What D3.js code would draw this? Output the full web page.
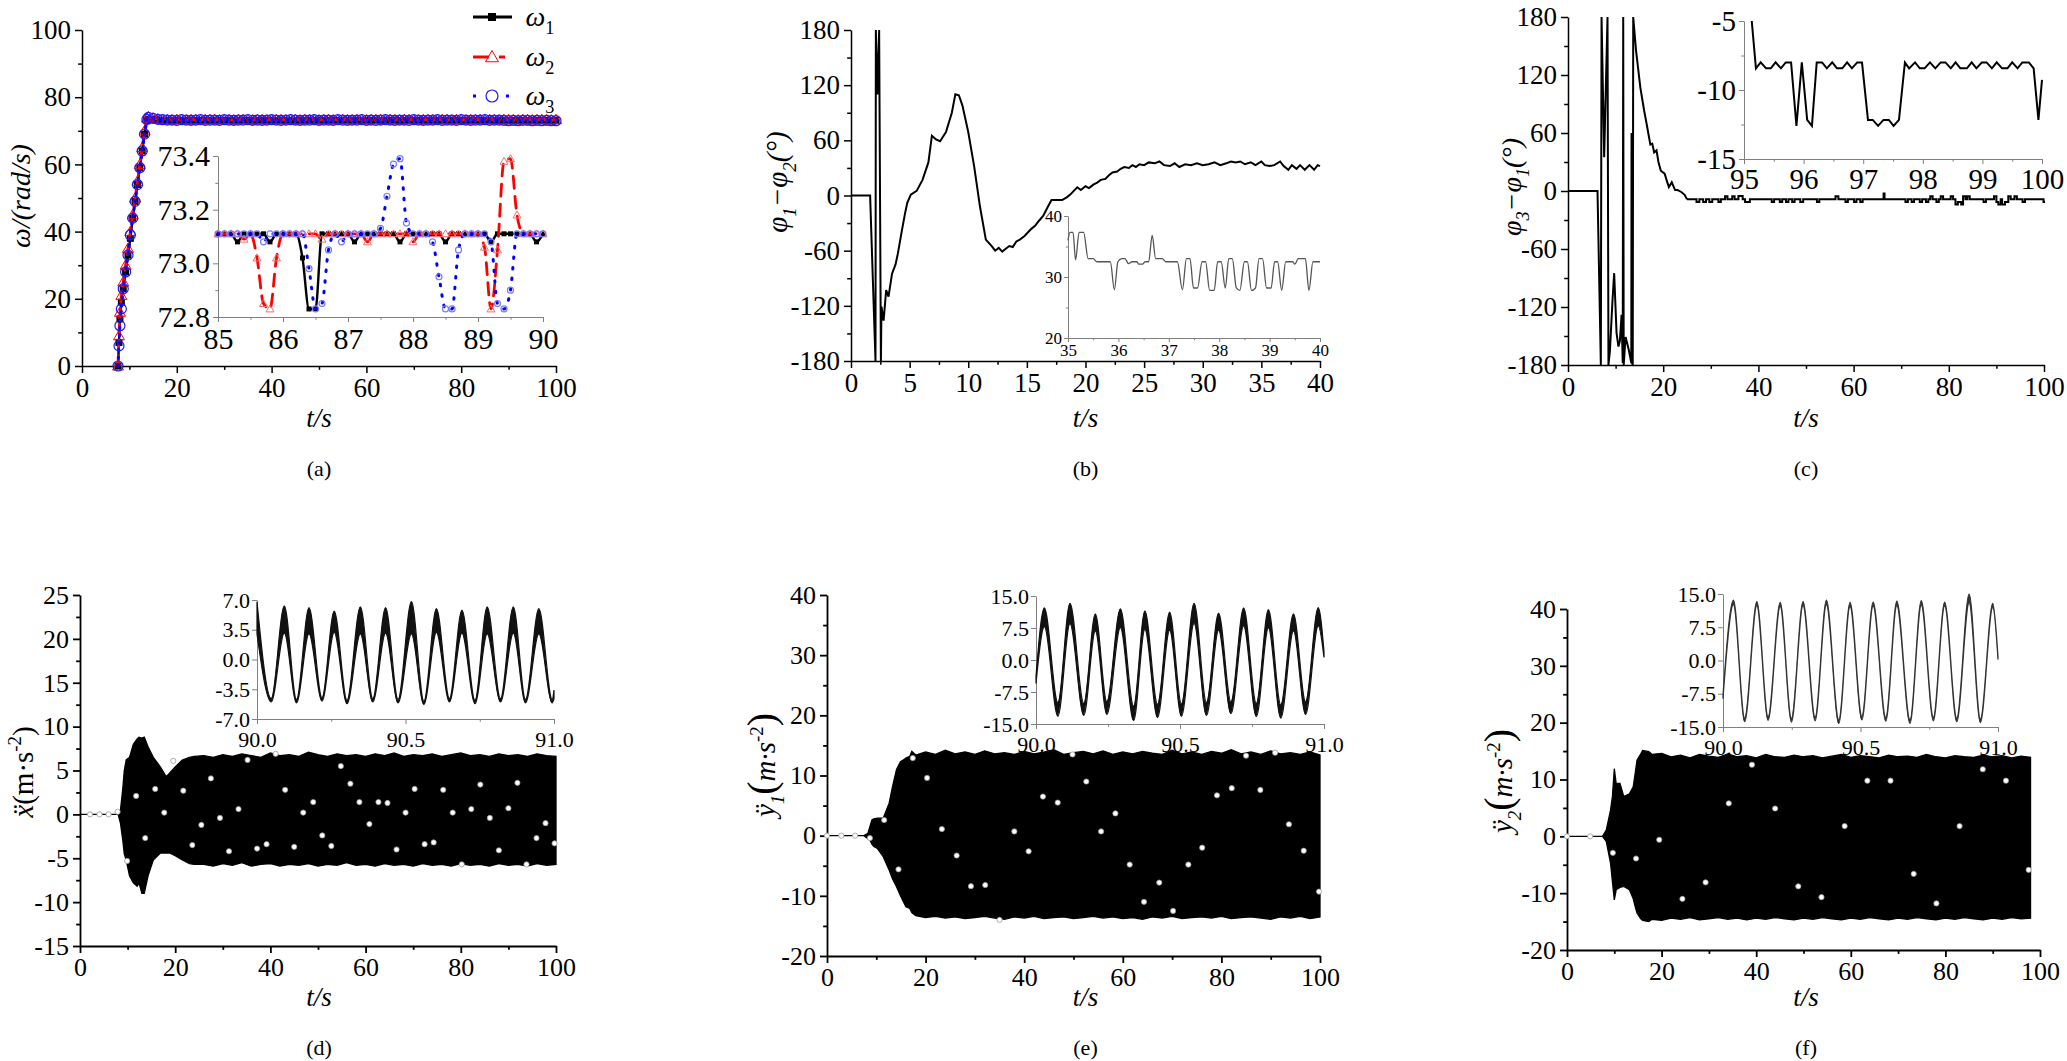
<!DOCTYPE html>
<html>
<head>
<meta charset="utf-8">
<script src="https://cdn.jsdelivr.net/npm/d3@7"></script>
<style>
  body { margin: 0; background: #fff; }
</style>
</head>
<body>
<script>
const serif = 'Liberation Serif, Times New Roman, serif'

// ---------------Tick labels---------------
const t100 = [0, 20, 40, 60, 80, 100]
const aYTicks = [0, 20, 40, 60, 80, 100]
const aInXTicks = [85, 86, 87, 88, 89, 90]
const aInYTicks = [72.8, 73.0, 73.2, 73.4]
const bXTicks = [0, 5, 10, 15, 20, 25, 30, 35, 40]
const phiTicks = [-180, -120, -60, 0, 60, 120, 180]
const bInXTicks = [35, 36, 37, 38, 39, 40]
const bInYTicks = [20, 30, 40]
const cInXTicks = [95, 96, 97, 98, 99, 100]
const cInYTicks = [-15, -10, -5]
const dYTicks = [-15, -10, -5, 0, 5, 10, 15, 20, 25]
const accInXTicks = [90.0, 90.5, 91.0]
const dInYTicks = [-7.0, -3.5, 0.0, 3.5, 7.0]
const efYTicks = [-20, -10, 0, 10, 20, 30, 40]
const efInYTicks = [-15.0, -7.5, 0.0, 7.5, 15.0]

// ---------------(a) angular speed---------------
const omegaT = [7.6, 7.8, 8.0, 8.3, 8.7, 9.2, 9.7, 10.2, 10.7, 11.2, 11.7, 12.2, 12.7, 13.2, 13.7,
  14, 15, 16, 17, 18, 19, 20, 21, 22, 23, 24, 25, 26, 27, 28, 29, 30, 31, 32, 33,
  34, 35, 36, 37, 38, 39, 40, 41, 42, 43, 44, 45, 46, 47, 48, 49, 50, 51, 52, 53,
  54, 55, 56, 57, 58, 59, 60, 61, 62, 63, 64, 65, 66, 67, 68, 69, 70, 71, 72, 73,
  74, 75, 76, 77, 78, 79, 80, 81, 82, 83, 84, 85, 86, 87, 88, 89, 90, 91, 92, 93,
  94, 95, 96, 97, 98, 99, 100]
const omega1 = [0, 7, 14, 19, 23, 28, 33, 38, 44, 49, 54, 59, 64, 69, 73.0,
  73.4, 73.3, 73.2, 73.1, 73.1, 73.0, 73.1, 73.1, 73.1, 73.0,
  73.1, 73.1, 73.1, 73.0, 73.1, 73.1, 73.1, 73.1, 73.0, 73.1,
  73.1, 73.1, 73.0, 73.1, 73.1, 73.1, 73.1, 73.0, 73.1, 73.1,
  73.1, 73.0, 73.1, 73.1, 73.1, 73.1, 73.0, 73.1, 73.1, 73.1,
  73.0, 73.1, 73.1, 73.1, 73.1, 73.0, 73.1, 73.1, 73.1, 73.0,
  73.1, 73.1, 73.1, 73.0, 73.1, 73.1, 73.1, 73.1, 73.0, 73.1,
  73.1, 73.1, 73.0, 73.1, 73.1, 73.1, 73.1, 73.0, 73.1, 73.1,
  73.1, 73.0, 73.1, 73.1, 73.1, 73.1, 73.0, 73.1, 73.1, 73.1,
  73.0, 73.1, 73.1, 73.1, 73.1, 73.0, 73.1]
const omega2 = [0, 9, 16, 21, 25, 30, 35, 40, 45, 50, 55, 60, 65, 70, 73.8,
  74.2, 73.8, 73.5, 73.3, 73.3, 73.2, 73.3, 73.3, 73.2, 73.3,
  73.3, 73.2, 73.3, 73.3, 73.3, 73.2, 73.3, 73.3, 73.2, 73.3,
  73.3, 73.3, 73.2, 73.3, 73.3, 73.2, 73.3, 73.3, 73.3, 73.2,
  73.3, 73.3, 73.2, 73.3, 73.3, 73.3, 73.2, 73.3, 73.3, 73.2,
  73.3, 73.3, 73.3, 73.2, 73.3, 73.3, 73.2, 73.3, 73.3, 73.3,
  73.2, 73.3, 73.3, 73.2, 73.3, 73.3, 73.3, 73.2, 73.3, 73.3,
  73.2, 73.3, 73.3, 73.3, 73.2, 73.3, 73.3, 73.2, 73.3, 73.3,
  73.3, 73.2, 73.3, 73.3, 73.2, 73.3, 73.3, 73.3, 73.2, 73.3,
  73.3, 73.2, 73.3, 73.3, 73.3, 73.2, 73.3]
const omega3 = [0, 6, 12, 17, 23, 28, 33, 39, 44, 49, 54, 59, 64, 69, 73.4,
  74.0, 73.7, 73.4, 73.3, 73.2, 73.2, 73.1, 73.3, 73.2, 73.1,
  73.2, 73.3, 73.1, 73.2, 73.2, 73.1, 73.3, 73.2, 73.1, 73.2,
  73.2, 73.3, 73.1, 73.2, 73.1, 73.2, 73.3, 73.2, 73.1, 73.2,
  73.3, 73.2, 73.1, 73.2, 73.2, 73.3, 73.1, 73.2, 73.2, 73.1,
  73.3, 73.2, 73.1, 73.2, 73.2, 73.3, 73.1, 73.2, 73.1, 73.2,
  73.3, 73.2, 73.1, 73.2, 73.2, 73.1, 73.3, 73.2, 73.1, 73.2,
  73.2, 73.3, 73.1, 73.2, 73.2, 73.1, 73.3, 73.2, 73.1, 73.2,
  73.2, 73.3, 73.1, 73.2, 73.2, 73.1, 73.0, 73.1, 73.0, 73.1,
  73.1, 73.0, 73.1, 73.0, 73.1, 73.0, 73.0]

// inset (a), 85 s .. 90 s
const omegaInT = [85.0, 85.1, 85.2, 85.3, 85.4, 85.5, 85.6, 85.7, 85.8, 85.9,
  86.0, 86.1, 86.2, 86.3, 86.4, 86.5, 86.6, 86.7, 86.8, 86.9,
  87.0, 87.1, 87.2, 87.3, 87.4, 87.5, 87.6, 87.7, 87.8, 87.9,
  88.0, 88.1, 88.2, 88.3, 88.4, 88.5, 88.6, 88.7, 88.8, 88.9,
  89.0, 89.1, 89.2, 89.3, 89.4, 89.5, 89.6, 89.7, 89.8, 89.9, 90.0]
const omega1In = [73.11, 73.11, 73.11, 73.08, 73.11, 73.11, 73.11, 73.11, 73.08, 73.11,
  73.11, 73.11, 73.11, 73.02, 72.83, 72.83, 73.11, 73.11, 73.11, 73.11,
  73.11, 73.08, 73.11, 73.11, 73.11, 73.11, 73.11, 73.11, 73.08, 73.11,
  73.11, 73.11, 73.11, 73.11, 73.11, 73.08, 73.11, 73.11, 73.11, 73.11,
  73.11, 73.11, 73.08, 73.11, 73.11, 73.11, 73.11, 73.11, 73.11, 73.08, 73.11]
const omega2In = [73.11, 73.11, 73.11, 73.11, 73.09, 73.11, 73.02, 72.85, 72.83, 73.02,
  73.11, 73.11, 73.11, 73.11, 73.11, 73.11, 73.09, 73.11, 73.11, 73.11,
  73.11, 73.11, 73.11, 73.08, 73.11, 73.11, 73.11, 73.11, 73.11, 73.11,
  73.08, 73.11, 73.11, 73.11, 73.11, 73.11, 73.11, 73.11, 73.11, 73.11,
  73.11, 73.06, 72.83, 73.05, 73.38, 73.39, 73.18, 73.11, 73.11, 73.11, 73.11]
const omega3In = [73.11, 73.11, 73.11, 73.11, 73.11, 73.11, 73.11, 73.08, 73.11, 73.11,
  73.11, 73.11, 73.11, 73.11, 72.98, 72.83, 72.85, 73.05, 73.11, 73.08,
  73.11, 73.11, 73.11, 73.11, 73.11, 73.13, 73.25, 73.37, 73.39, 73.15,
  73.11, 73.11, 73.11, 73.08, 72.95, 72.83, 72.83, 73.05, 73.11, 73.11,
  73.11, 73.11, 73.08, 72.85, 72.83, 72.90, 73.11, 73.11, 73.11, 73.11, 73.11]

// ---------------(b) phase difference 1-2 [t, deg]---------------
const phi12 = [[0, 0], [1.63, 0], [2.09, -180], [2.12, 180], [2.25, 110], [2.4, 180], [2.55, -180],
  [2.6, -121], [2.78, -136], [3.0, -103], [3.2, -110], [3.5, -85], [3.8, -75], [4.0, -63], [4.3, -41],
  [4.6, -20], [4.8, -8], [5.1, 1], [5.6, 5], [6.1, 17], [6.6, 36], [6.9, 65], [7.25, 61], [7.6, 59],
  [8.1, 69], [8.6, 90], [8.9, 110], [9.2, 109], [9.5, 98], [10.0, 69], [10.5, 32], [11.0, -12],
  [11.5, -48], [12.0, -55], [12.3, -60], [12.6, -57], [12.9, -61], [13.2, -58], [13.5, -55],
  [13.8, -56], [14.1, -50], [14.4, -48], [14.8, -44], [15.1, -40], [15.4, -36], [15.7, -33],
  [16.0, -28], [16.4, -22], [16.8, -12], [17.1, -5], [17.5, -5], [18.0, -5], [18.4, -2], [18.7, 1],
  [19.0, 5], [19.3, 9], [19.6, 6], [20.0, 10], [20.3, 8], [20.7, 12], [21.0, 14], [21.3, 17],
  [21.7, 18], [22.0, 22], [22.3, 25], [22.7, 26], [23.0, 29], [23.3, 31], [23.7, 30], [24.0, 33],
  [24.3, 31], [24.6, 34], [25.0, 33], [25.4, 36], [25.9, 35], [26.3, 37], [26.7, 33], [27.2, 32],
  [27.6, 35], [28.0, 31], [28.5, 34], [29.0, 33], [29.5, 35], [30.0, 33], [30.5, 34], [31.0, 36],
  [31.5, 33], [32.0, 35], [32.4, 37], [32.8, 36], [33.2, 37], [33.6, 34], [34.1, 36], [34.5, 33],
  [35.0, 37], [35.3, 33], [35.7, 32], [36.1, 33], [36.6, 37], [36.9, 32], [37.3, 28], [37.6, 33],
  [38.0, 29], [38.3, 33], [38.7, 28], [39.1, 33], [39.5, 28], [39.8, 33], [40.0, 32]]
const phi12In = [[35.0, 36], [35.04, 37.3], [35.1, 37.3], [35.15, 32.8], [35.22, 37.3], [35.31, 37.3],
  [35.4, 33.0], [35.5, 33.0], [35.57, 32.5], [35.84, 32.5], [35.92, 27.9], [35.99, 32.5], [36.07, 33.0],
  [36.13, 33.0], [36.2, 32.2], [36.27, 32.5], [36.37, 32.5], [36.4, 32.1], [36.48, 32.1], [36.53, 32.5],
  [36.6, 32.5], [36.67, 36.8], [36.74, 33.0], [36.87, 33.0], [36.94, 32.5], [37.17, 32.5], [37.27, 27.9],
  [37.35, 33.0], [37.42, 33.0], [37.49, 28.2], [37.57, 28.2], [37.66, 32.5], [37.73, 32.5], [37.81, 27.8],
  [37.9, 27.8], [37.97, 32.5], [38.04, 32.5], [38.12, 28.2], [38.19, 33.0], [38.26, 33.0], [38.34, 28.2],
  [38.41, 27.8], [38.5, 32.5], [38.56, 32.5], [38.64, 27.8], [38.72, 28.2], [38.79, 33.0], [38.86, 33.0],
  [38.94, 28.2], [39.03, 28.2], [39.1, 32.5], [39.16, 32.5], [39.24, 27.8], [39.32, 32.5], [39.46, 32.5],
  [39.5, 32.1], [39.57, 33.0], [39.71, 33.0], [39.78, 27.8], [39.86, 32.5], [40.0, 32.5]]

// ---------------(c) phase difference 3-1 [t, deg]---------------
const phi31 = [[0, 0], [6.2, 0], [6.9, -180], [7.05, 180], [7.6, 35], [8.3, 180], [8.5, -180],
  [8.8, -166], [9.35, -113], [9.7, -85], [10.2, -147], [10.6, -161], [10.9, -155], [11.25, -128],
  [11.5, -178], [11.6, 180], [11.7, -180], [12.1, -151], [12.8, -165], [13.3, -178], [13.35, 60],
  [13.45, -178], [13.6, -180], [13.7, 180], [14.3, 145], [15.2, 107], [16.0, 83], [16.5, 70],
  [16.9, 59], [17.3, 48], [17.7, 49], [18.1, 40], [18.6, 42], [19.0, 30], [19.5, 21], [20.3, 18],
  [20.8, 10], [21.2, 4], [21.8, 9], [22.5, 1], [23.0, 1], [23.8, -1], [24.5, -4], [25, -8.6]]
// steady part, value changes only (step)
const phi31Steady = [[25, -8.6], [27, -11.5], [27.6, -8.6], [28.4, -11.5], [29.0, -8.6], [29.7, -11.5],
  [30.3, -8.6], [31.6, -11.5], [32.1, -8.6], [33.0, -5.5], [33.5, -8.6], [34.5, -5.5], [35.0, -8.6],
  [35.8, -5.2], [36.7, -8.6], [37.2, -11.5], [38.2, -8.6], [42.8, -11.5], [43.3, -8.6], [44.5, -11.5],
  [45.0, -8.6], [45.8, -11.5], [46.3, -8.6], [47.1, -11.5], [47.6, -8.6], [48.8, -11.5], [49.4, -8.6],
  [52.3, -11.5], [52.8, -8.6], [56.2, -5.5], [56.8, -8.6], [58.3, -11.5], [58.8, -8.6], [60.1, -11.5],
  [60.6, -8.6], [61.4, -11.5], [61.9, -8.6], [66.3, -2.5], [66.5, -8.6], [70.9, -11.5], [71.4, -8.6],
  [72.2, -11.5], [72.7, -8.6], [73.9, -11.5], [74.4, -8.6], [75.2, -11.5], [75.7, -8.6], [76.1, -5.5],
  [76.6, -8.6], [77.4, -11.5], [77.9, -8.6], [78.3, -5.5], [78.8, -8.6], [80.4, -5.5], [80.9, -8.6],
  [81.4, -14], [81.9, -11.5], [82.6, -14], [83.0, -5.5], [83.5, -8.6], [83.9, -5.5], [84.4, -8.6],
  [87.3, -11.5], [87.8, -8.6], [89.5, -5.5], [90.0, -11.5], [90.4, -14], [90.9, -8.6], [91.2, -14],
  [91.8, -11.5], [92.5, -5.5], [93.0, -8.6], [93.8, -5.5], [94.3, -8.6], [95.5, -11.5], [96.0, -8.6],
  [99.9, -11.5], [100, -10]]
const phi31In = [[95.13, -5.0], [95.2, -8.43], [95.28, -8.0], [95.37, -8.43], [95.45, -8.43], [95.53, -8.0],
  [95.62, -8.43], [95.7, -8.0], [95.79, -8.0], [95.88, -12.6], [95.97, -8.0], [96.06, -12.17], [96.14, -12.6],
  [96.22, -8.0], [96.31, -8.0], [96.39, -8.43], [96.48, -8.0], [96.56, -8.43], [96.65, -8.43], [96.73, -8.0],
  [96.81, -8.43], [96.9, -8.0], [96.98, -8.0], [97.08, -12.17], [97.16, -12.17], [97.25, -12.6], [97.34, -12.17],
  [97.43, -12.17], [97.51, -12.6], [97.6, -12.17], [97.7, -8.0], [97.77, -8.43], [97.87, -8.0], [97.95, -8.43],
  [98.03, -8.43], [98.12, -8.0], [98.21, -8.43], [98.3, -8.0], [98.38, -8.0], [98.47, -8.43], [98.55, -8.0],
  [98.63, -8.43], [98.74, -8.43], [98.82, -8.0], [98.9, -8.43], [98.99, -8.0], [99.07, -8.0], [99.16, -8.43],
  [99.24, -8.0], [99.33, -8.43], [99.42, -8.43], [99.5, -8.0], [99.59, -8.43], [99.67, -8.0], [99.78, -8.0],
  [99.86, -8.43], [99.94, -12.17], [100.0, -9.27]]

// ---------------(d)(e)(f) accelerations: envelope [t, low, high]---------------
const accXEnv = [[0, 0, 0], [8.0, 0, 0], [8.5, -1, 0.5], [9.0, -3, 3], [9.3, -4.5, 5], [9.7, -5.2, 6.2],
  [10.4, -7, 6.5], [11.2, -7.8, 8], [12.0, -8.2, 8.6], [12.4, -7.8, 8.8], [13.0, -9, 8.7], [13.5, -9, 8.8],
  [14.3, -7, 7.7], [15.4, -5.2, 6.5], [16.9, -4.4, 5.4], [18.1, -4.4, 4.3], [18.8, -4.4, 4.7],
  [20.0, -4.7, 5.4], [21.5, -5.2, 6.2], [23.0, -5.6, 6.5], [24, -5.7, 6.6],
  [26, -5.7, 6.7], [28, -5.9, 6.5], [30, -5.6, 6.8], [32, -5.8, 6.6], [34, -5.5, 6.9], [36, -5.9, 6.7],
  [38, -5.7, 6.5], [40, -5.6, 7.0], [42, -5.9, 6.7], [44, -5.7, 6.8], [46, -5.8, 6.6], [48, -5.6, 7.1],
  [50, -5.9, 6.8], [52, -5.7, 6.6], [54, -5.8, 6.9], [56, -5.5, 6.7], [58, -5.8, 6.8], [60, -5.7, 6.6],
  [62, -5.9, 6.9], [64, -5.6, 6.7], [66, -5.8, 7.0], [68, -5.7, 6.6], [70, -5.9, 6.8], [72, -5.6, 6.7],
  [74, -5.8, 6.9], [76, -5.7, 6.6], [78, -5.9, 6.8], [80, -5.6, 7.0], [82, -5.8, 6.7], [84, -5.7, 6.8],
  [86, -5.9, 6.6], [88, -5.6, 6.9], [90, -5.8, 6.7], [92, -5.7, 6.8], [94, -5.9, 6.6], [96, -5.6, 6.9],
  [98, -5.8, 6.7], [100, -5.7, 6.6]]
const accY1Env = [[0, 0, 0], [7.5, 0, 0], [8.3, -0.5, 0.4], [8.7, -0.7, 1.5], [9.1, -1.4, 2.6],
  [9.5, -1.8, 2.8], [10.2, -2.1, 2.9], [11.4, -3.5, 2.9], [12.6, -5.7, 5.4], [13.3, -7.2, 8.2],
  [14.1, -8.5, 11], [14.9, -10, 12.3], [15.7, -11.3, 12.7], [16.0, -11.8, 12.9], [16.8, -12.1, 13.2],
  [17.2, -12.8, 14], [18, -13.3, 13.4], [20, -13.6, 13.9], [22, -13.4, 13.5], [24, -13.7, 14.2],
  [26, -13.5, 13.6], [28, -13.8, 13.9], [30, -13.6, 13.5], [32, -13.4, 14.1], [34, -13.7, 13.6],
  [36, -13.9, 13.8], [38, -13.5, 13.5], [40, -13.7, 14.0], [42, -13.4, 13.6], [44, -13.8, 13.9],
  [46, -13.6, 14.3], [48, -13.5, 13.5], [50, -13.8, 13.8], [52, -13.6, 14.0], [54, -13.4, 13.6],
  [56, -13.7, 14.1], [58, -13.5, 13.5], [60, -13.8, 13.9], [62, -13.6, 13.6], [64, -13.9, 14.0],
  [66, -13.5, 13.7], [68, -13.7, 13.5], [70, -13.4, 14.2], [72, -13.8, 13.6], [74, -13.6, 13.9],
  [76, -13.5, 13.5], [78, -13.7, 14.0], [80, -13.4, 13.7], [82, -13.8, 14.3], [84, -13.6, 13.6],
  [86, -13.5, 13.9], [88, -13.7, 13.5], [90, -13.9, 14.1], [92, -13.5, 13.6], [94, -13.7, 13.8],
  [96, -13.4, 13.5], [98, -13.8, 13.9], [100, -13.5, 13.4]]
const accY2Env = [[0, 0, 0], [7.5, 0, 0], [8.3, -0.9, 1.1], [9.2, -4.7, 4.6], [9.6, -8, 7],
  [10.0, -11.2, 11.9], [10.4, -9.4, 9.3], [11.2, -9.0, 9.3], [12.0, -8.8, 7.0], [13.2, -9.4, 7.5],
  [14.0, -11, 8.7], [14.4, -12.3, 11], [14.8, -13.5, 13.4], [15.6, -14.5, 14.5], [16.0, -14.8, 15.1],
  [17.3, -15, 14.9], [18, -14.6, 14.4], [20, -14.8, 14.6], [22, -14.4, 14.0], [24, -14.6, 14.3],
  [26, -14.3, 13.8], [28, -14.7, 14.4], [30, -14.5, 14.1], [32, -14.3, 13.9], [34, -14.6, 14.5],
  [36, -14.4, 14.0], [38, -14.7, 14.2], [40, -14.4, 13.8], [42, -14.6, 14.4], [44, -14.3, 14.0],
  [46, -14.5, 13.9], [48, -14.7, 14.3], [50, -14.4, 14.0], [52, -14.6, 14.2], [54, -14.3, 13.8],
  [56, -14.5, 14.1], [58, -14.7, 14.4], [60, -14.4, 13.9], [62, -14.6, 14.2], [64, -14.3, 14.0],
  [66, -14.5, 13.8], [68, -14.7, 14.3], [70, -14.4, 14.0], [72, -14.6, 14.1], [74, -14.3, 13.9],
  [76, -14.5, 14.4], [78, -14.7, 14.0], [80, -14.4, 13.8], [82, -14.6, 14.2], [84, -14.3, 14.0],
  [86, -14.5, 13.9], [88, -14.7, 14.3], [90, -14.4, 14.0], [92, -14.6, 14.2], [94, -14.3, 13.8],
  [96, -14.5, 14.1], [98, -14.4, 13.9]]

// marker samples of each acceleration series [t, value]
const accXDots = [[2.1, 0], [4.1, 0], [6.0, 0], [7.9, 0.3], [9.9, -5.3], [11.8, 2.1], [13.7, -2.7],
  [15.8, 2.9], [17.7, 0.2], [19.6, 6.1], [21.7, 2.7], [23.6, -3.5], [25.5, -1.2], [27.5, 4.1],
  [29.4, -0.4], [31.3, -4.2], [33.3, 0.6], [35.2, 6.2], [37.2, -3.9], [39.2, -3.4], [41.1, 6.9],
  [43.1, 2.8], [45.0, -3.7], [46.9, 0.2], [49.0, 1.4], [50.9, -2.4], [52.8, -3.6], [54.8, 5.5],
  [56.8, 3.5], [58.7, 1.4], [60.8, -1.1], [62.7, 1.4], [64.6, 1.3], [66.5, -4.0], [68.4, 0.2],
  [70.3, 2.9], [72.4, -3.4], [74.3, -3.2], [76.3, 2.8], [78.3, 0.2], [80.2, -5.7], [82.2, 0.6],
  [84.1, 3.4], [86.1, -0.4], [88.0, -4.1], [90.0, 0.7], [91.9, 3.6], [93.8, -5.7], [95.9, -2.7],
  [97.8, -1.0], [99.7, -3.3]]
const accY1Dots = [[0, 0], [2.9, 0], [5.7, 0], [8.7, -0.4], [11.6, 2.6], [14.5, -5.6], [17.4, 12.9],
  [20.3, 9.6], [23.3, 1.1], [26.3, -3.3], [29.2, -8.4], [32.1, -8.2], [35.0, -14.0], [38.0, 0.7],
  [40.9, -2.6], [43.8, 6.5], [46.8, 5.5], [49.8, 13.5], [52.6, 9.0], [55.6, 0.7], [58.5, 3.7],
  [61.4, -4.8], [64.3, -11.0], [67.4, -7.8], [70.2, -12.5], [73.3, -4.8], [76.1, -2.0], [79.1, 6.7],
  [82.1, 7.9], [85.0, 13.3], [87.9, 7.6], [90.9, 13.8], [93.7, 1.9], [96.7, -2.5], [99.8, -9.3]]
const accY2Dots = [[0, 0], [4.9, 0], [9.7, -2.9], [14.6, -3.9], [19.5, -0.6], [24.4, -11.0], [29.3, -8.1],
  [34.2, 5.8], [39.1, 12.6], [44.0, 4.9], [48.9, -8.8], [53.8, -10.7], [58.7, 1.8], [63.5, 9.8],
  [68.4, 9.8], [73.3, -6.6], [78.1, -11.8], [83.0, 1.8], [87.9, 11.8], [92.8, 9.8], [97.6, -5.9]]

// insets 90 s .. 91 s, [t, low, high]
const accXIn = [[90.0, 3.0, 6.8], [90.048, -5.0, -4.6], [90.092, 3.1, 6.3], [90.133, -5.1, -4.7],
  [90.175, 3.0, 6.1], [90.219, -4.9, -4.5], [90.26, 3.2, 5.7], [90.303, -5.2, -4.8], [90.348, 3.0, 6.2],
  [90.39, -5.0, -4.6], [90.433, 3.1, 6.1], [90.475, -5.1, -4.7], [90.52, 3.0, 6.8], [90.562, -5.3, -4.9],
  [90.604, 3.2, 6.0], [90.648, -5.0, -4.6], [90.69, 3.1, 5.8], [90.734, -5.2, -4.8], [90.775, 3.0, 6.2],
  [90.82, -5.0, -4.6], [90.863, 3.1, 6.2], [90.904, -5.1, -4.7], [90.949, 3.0, 6.0], [90.994, -5.1, -4.7],
  [91.0, -4.6, -3.6]]
const accY1In = [[90.0, -5.5, -3.8], [90.029, 7.8, 12.2], [90.076, -13.2, -10.0], [90.118, 8.5, 13.3],
  [90.166, -13.0, -10.2], [90.206, 6.8, 10.8], [90.246, -12.8, -9.8], [90.293, 7.6, 12.0],
  [90.339, -14.2, -10.8], [90.378, 7.2, 11.5], [90.422, -13.5, -10.4], [90.464, 7.0, 11.2],
  [90.505, -13.2, -10.3], [90.549, 8.6, 13.3], [90.592, -13.0, -10.0], [90.634, 7.0, 11.0],
  [90.677, -12.6, -9.8], [90.721, 8.0, 12.2], [90.765, -13.3, -10.2], [90.807, 7.5, 11.8],
  [90.85, -13.6, -10.5], [90.894, 6.8, 10.8], [90.936, -12.8, -9.8], [90.98, 8.0, 12.3], [91.0, 0.6, 2.0]]
const accY2In = [[90.0, -8.6, -7.8], [90.038, 12.6, 13.6], [90.079, -13.8, -13.0], [90.123, 12.4, 13.3],
  [90.164, -13.5, -12.7], [90.208, 12.2, 13.1], [90.249, -13.9, -13.1], [90.291, 12.4, 13.3],
  [90.335, -13.6, -12.8], [90.376, 12.6, 13.6], [90.421, -14.2, -13.4], [90.462, 12.2, 13.1],
  [90.505, -13.4, -12.6], [90.546, 12.3, 13.2], [90.592, -13.7, -12.9], [90.632, 12.4, 13.4],
  [90.68, -14.2, -13.4], [90.721, 12.5, 13.5], [90.765, -13.6, -12.8], [90.806, 12.3, 13.2],
  [90.85, -13.8, -13.0], [90.895, 13.0, 15.0], [90.936, -14.0, -13.2], [90.981, 12.0, 12.9], [91.0, 0.2, 0.9]]

const captions = ['(a)', '(b)', '(c)', '(d)', '(e)', '(f)']

// ---------------Helpers---------------
const W = 2067, H = 1061
const svg = d3.select('body').append('svg')
  .attr('width', W).attr('height', H)
  .style('font-family', serif)

const fmtInt = d => String(d)
const fmt1 = d => d.toFixed(1)

function panel(o) {
  const x = d3.scaleLinear().domain(o.xd).range(o.xr)
  const y = d3.scaleLinear().domain(o.yd).range(o.yr)
  const g = svg.append('g')
  const col = o.col || '#000'
  const mid = t => t.slice(1).map((d, i) => (d + t[i]) / 2)
  const xMinor = o.xMinor || mid(o.xTicks)
  const yMinor = o.yMinor || mid(o.yTicks)

  const gx = g.append('g').attr('transform', `translate(0,${o.yr[0]})`)
    .call(d3.axisBottom(x).tickValues(o.xTicks).tickFormat(o.xFmt || fmtInt)
      .tickSize(o.tk).tickSizeOuter(0).tickPadding(o.padX))
  gx.append('g').call(d3.axisBottom(x).tickValues(xMinor).tickFormat('')
    .tickSize(o.tk * 0.55).tickSizeOuter(0))
    .call(s => s.select('.domain').remove())

  const gy = g.append('g').attr('transform', `translate(${o.xr[0]},0)`)
    .call(d3.axisLeft(y).tickValues(o.yTicks).tickFormat(o.yFmt || fmtInt)
      .tickSize(o.tk).tickSizeOuter(0).tickPadding(o.padY))
  gy.append('g').call(d3.axisLeft(y).tickValues(yMinor).tickFormat('')
    .tickSize(o.tk * 0.55).tickSizeOuter(0))
    .call(s => s.select('.domain').remove())

  g.selectAll('.domain, .tick line').attr('stroke', col).attr('stroke-width', o.lw || 1.5)
  g.selectAll('g').attr('font-family', serif)
  g.selectAll('.tick text').attr('font-size', o.fs).attr('fill', '#000').attr('font-family', serif)
  return { g, x, y }
}

// text with italic / sub / sup runs
function rich(x, y, rot, size, parts) {
  const t = svg.append('text')
    .attr('transform', `translate(${x},${y}) rotate(${rot})`)
    .attr('text-anchor', 'middle')
    .attr('font-size', size)
    .attr('font-family', serif)
  let shift = 0
  parts.forEach(p => {
    const s = t.append('tspan').text(p.t)
    if (p.i) s.attr('font-style', 'italic')
    const want = p.sub ? size * 0.3 : p.sup ? -size * 0.42 : 0
    if (want !== shift) { s.attr('dy', want - shift); shift = want }
    if (p.sub || p.sup) s.attr('font-size', size * 0.65)
    if (p.fs) s.attr('font-size', p.fs)
  })
  return t
}

function markers(g, pts, kind, size, stroke, fill) {
  if (kind === 'square') {
    g.append('g').selectAll('rect').data(pts).enter().append('rect')
      .attr('x', d => d[0] - size / 2).attr('y', d => d[1] - size / 2)
      .attr('width', size).attr('height', size).attr('fill', fill)
  } else if (kind === 'triangle') {
    g.append('g').selectAll('path').data(pts).enter().append('path')
      .attr('d', d3.symbol(d3.symbolTriangle, size * size * 0.43))
      .attr('transform', d => `translate(${d[0]},${d[1] + size * 0.08})`)
      .attr('fill', fill).attr('stroke', stroke).attr('stroke-width', 1)
  } else {
    g.append('g').selectAll('circle').data(pts).enter().append('circle')
      .attr('cx', d => d[0]).attr('cy', d => d[1]).attr('r', size / 2)
      .attr('fill', fill).attr('stroke', stroke).attr('stroke-width', 1.2)
  }
}

// ---------------(a)---------------
const pA = panel({ xd: [0, 100], xr: [82, 556], yd: [0, 100], yr: [366, 30],
  xTicks: t100, yTicks: aYTicks, tk: 7, fs: 27, padX: 5, padY: 4 })

const omegaStyles = [
  { vals: omega1, inVals: omega1In, color: '#000', dash: null, w: 2.4, kind: 'square', fill: '#000', stroke: 'none' },
  { vals: omega2, inVals: omega2In, color: '#f00', dash: '10,6', w: 2.8, kind: 'triangle', fill: 'none', stroke: '#f00' },
  { vals: omega3, inVals: omega3In, color: '#00f', dash: '1.5,6', w: 3, kind: 'circle', fill: 'none', stroke: '#1a1aff' }
]
omegaStyles.forEach(s => {
  const pts = s.vals.map((v, i) => [pA.x(omegaT[i]), pA.y(v)])
  pA.g.append('path').attr('d', d3.line()(pts)).attr('fill', 'none')
    .attr('stroke', s.color).attr('stroke-width', s.w)
    .attr('stroke-dasharray', s.dash).attr('stroke-linecap', 'round')
  markers(pA.g, pts, s.kind, s.kind === 'circle' ? 10 : s.kind === 'triangle' ? 11 : 7, s.stroke, s.fill)
})

// legend
const legY = [17, 57, 96]
omegaStyles.forEach((s, i) => {
  const lg = svg.append('g')
  lg.append('line').attr('x1', 473).attr('x2', 512).attr('y1', legY[i]).attr('y2', legY[i])
    .attr('stroke', s.color).attr('stroke-width', 3.2)
    .attr('stroke-dasharray', i === 1 ? '16,10,6' : i === 2 ? '3,30' : null)
  markers(lg, [[492, legY[i]]], s.kind, s.kind === 'circle' ? 12 : s.kind === 'triangle' ? 13 : 8, s.stroke, i === 2 ? '#fff' : s.fill)
  rich(540, legY[i] + 9, 0, 28, [{ t: 'ω', i: 1 }, { t: String(i + 1), sub: 1 }])
})

// inset (a)
const pAi = panel({ xd: [85, 90], xr: [218, 543], yd: [72.8, 73.4], yr: [317, 156],
  xTicks: aInXTicks, yTicks: aInYTicks, yFmt: fmt1, tk: 5, fs: 30, padX: 6, padY: 3,
  col: '#808080', lw: 1 })
omegaStyles.forEach(s => {
  const pts = s.inVals.map((v, i) => [pAi.x(omegaInT[i]), pAi.y(v)])
  pAi.g.append('path').attr('d', d3.line().curve(d3.curveMonotoneX)(pts)).attr('fill', 'none')
    .attr('stroke', s.color).attr('stroke-width', s.w)
    .attr('stroke-dasharray', s.dash ? (s.kind === 'circle' ? '1.5,9' : '12,8') : null)
    .attr('stroke-linecap', 'round')
  markers(pAi.g, pts, s.kind, s.kind === 'circle' ? 6 : s.kind === 'triangle' ? 8 : 5,
    s.kind === 'triangle' ? '#f07070' : '#7b7bff', s.fill)
})

// ---------------(b)---------------
const pB = panel({ xd: [0, 40], xr: [851, 1320], yd: [-180, 180], yr: [361, 30],
  xTicks: bXTicks, yTicks: phiTicks, tk: 7, fs: 27, padX: 5, padY: 4 })
pB.g.append('path').attr('d', d3.line().x(d => pB.x(d[0])).y(d => pB.y(d[1]))(phi12))
  .attr('fill', 'none').attr('stroke', '#000').attr('stroke-width', 2)

const pBi = panel({ xd: [35, 40], xr: [1068, 1320], yd: [20, 40], yr: [338, 216],
  xTicks: bInXTicks, yTicks: bInYTicks, tk: 4, fs: 17, padX: 2, padY: 2, col: '#808080', lw: 1 })
pBi.g.append('path').attr('d', d3.line().x(d => pBi.x(d[0])).y(d => pBi.y(d[1])).curve(d3.curveMonotoneX)(phi12In))
  .attr('fill', 'none').attr('stroke', '#555').attr('stroke-width', 1.3)

// ---------------(c)---------------
const pC = panel({ xd: [0, 100], xr: [1568, 2044], yd: [-180, 180], yr: [365, 17],
  xTicks: t100, yTicks: phiTicks, tk: 7, fs: 27, padX: 5, padY: 4 })
pC.g.append('path').attr('d', d3.line().x(d => pC.x(d[0])).y(d => pC.y(d[1]))(phi31))
  .attr('fill', 'none').attr('stroke', '#000').attr('stroke-width', 2)
pC.g.append('path').attr('d', d3.line().x(d => pC.x(d[0])).y(d => pC.y(d[1])).curve(d3.curveStepAfter)(phi31Steady))
  .attr('fill', 'none').attr('stroke', '#000').attr('stroke-width', 2)

const pCi = panel({ xd: [95, 100], xr: [1744, 2042], yd: [-15, -5], yr: [159, 21],
  xTicks: cInXTicks, yTicks: cInYTicks, tk: 5, fs: 29, padX: 4, padY: 3, col: '#808080', lw: 1 })
pCi.g.append('path').attr('d', d3.line().x(d => pCi.x(d[0])).y(d => pCi.y(d[1]))(phi31In))
  .attr('fill', 'none').attr('stroke', '#000').attr('stroke-width', 2)

// ---------------(d)(e)(f)---------------
const accPanels = [
  { env: accXEnv, dots: accXDots, inset: accXIn,
    main: { xd: [0, 100], xr: [80, 556], yd: [-15, 25], yr: [946, 595], yTicks: dYTicks },
    ins: { xr: [257, 554], yd: [-7, 7], yr: [719, 600], yTicks: dInYTicks, fs: 22 }, inCol: '#111' },
  { env: accY1Env, dots: accY1Dots, inset: accY1In,
    main: { xd: [0, 100], xr: [827, 1320], yd: [-20, 40], yr: [956, 595], yTicks: efYTicks },
    ins: { xr: [1036, 1324], yd: [-15, 15], yr: [724, 596], yTicks: efInYTicks, fs: 22 }, inCol: '#111' },
  { env: accY2Env, dots: accY2Dots, inset: accY2In,
    main: { xd: [0, 100], xr: [1567, 2040], yd: [-20, 40], yr: [950, 609], yTicks: efYTicks },
    ins: { xr: [1723, 1998], yd: [-15, 15], yr: [727, 594], yTicks: efInYTicks, fs: 22 }, inCol: '#333' }
]
accPanels.forEach(a => {
  const p = panel(Object.assign({ xTicks: t100, tk: 7, fs: 26, padX: 5, padY: 4, lw: 1.8 }, a.main))
  p.g.append('path')
    .attr('d', d3.area().x(d => p.x(d[0])).y0(d => p.y(d[1])).y1(d => p.y(d[2]))(a.env))
    .attr('fill', '#000').attr('stroke', '#000').attr('stroke-width', 1.3)
  p.g.append('g').selectAll('circle').data(a.dots).enter().append('circle')
    .attr('cx', d => p.x(d[0])).attr('cy', d => p.y(d[1])).attr('r', 2.6)
    .attr('fill', '#fff').attr('stroke', '#999').attr('stroke-width', 0.8)

  const q = panel(Object.assign({ xd: [90, 91], xTicks: accInXTicks, xMinor: [90.25, 90.75], yMinor: [],
    xFmt: fmt1, yFmt: fmt1, tk: 5, padX: 7, padY: 2, col: '#808080', lw: 1 }, a.ins))
  q.g.append('path')
    .attr('d', d3.area().x(d => q.x(d[0])).y0(d => q.y(d[1])).y1(d => q.y(d[2])).curve(d3.curveMonotoneX)(a.inset))
    .attr('fill', a.inCol).attr('stroke', a.inCol).attr('stroke-width', 1.2)
})

// ---------------Axis titles (x = baseline after rotation)---------------
rich(30, 196, -90, 28, [{ t: 'ω/(rad/s)', i: 1 }])
rich(787, 182, -90, 29, [{ t: 'φ', i: 1 }, { t: '1', i: 1, sub: 1 }, { t: '−φ', i: 1 }, { t: '2', i: 1, sub: 1 }, { t: '(°)', i: 1 }])
rich(1521, 187, -90, 28, [{ t: 'φ', i: 1 }, { t: '3', i: 1, sub: 1 }, { t: '−φ', i: 1 }, { t: '1', i: 1, sub: 1 }, { t: '(°)', i: 1 }])
rich(33, 772, -90, 29, [{ t: 'ẍ', i: 1 }, { t: '(m·s' }, { t: '-2', sup: 1 }, { t: ')' }])
rich(775, 765, -90, 29, [{ t: 'ÿ', i: 1 }, { t: '1', i: 1, sub: 1 }, { t: '(', fs: 40 }, { t: 'm·s', i: 1 }, { t: '-2', sup: 1 }, { t: ')', fs: 40 }])
rich(1512, 781, -90, 29, [{ t: 'ÿ', i: 1 }, { t: '2', i: 1, sub: 1 }, { t: '(', fs: 40 }, { t: 'm·s', i: 1 }, { t: '-2', sup: 1 }, { t: ')', fs: 40 }])

const cols = [[82, 556], [851, 1320], [1568, 2044]]
cols.forEach((c, i) => {
  const cx = (c[0] + c[1]) / 2
  rich(cx, 427, 0, 27, [{ t: 't/s', i: 1 }])
  rich(cx, 1006, 0, 27, [{ t: 't/s', i: 1 }])
  rich(cx, 476, 0, 22, [{ t: captions[i] }])
  rich(cx, 1055, 0, 22, [{ t: captions[i + 3] }])
})
</script>
</body>
</html>
